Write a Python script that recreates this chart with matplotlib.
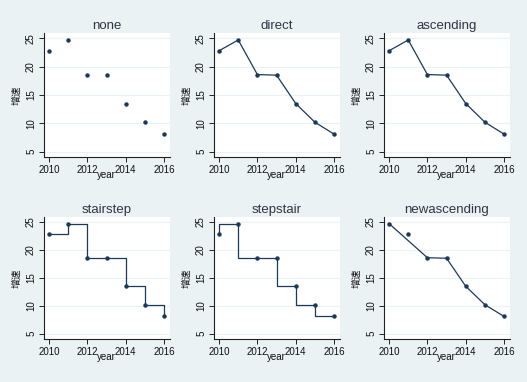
import matplotlib
matplotlib.use("Agg")
import matplotlib.pyplot as plt

plt.rcParams['font.family'] = ['Liberation Sans', 'Noto Sans CJK SC', 'DejaVu Sans']

# data
years = [2010, 2011, 2012, 2013, 2014, 2015, 2016]
growth = [22.8, 24.7, 18.6, 18.5, 13.5, 10.2, 8.1]
# the newascending panel uses a reordered copy of the data
years_new = [2011, 2010, 2012, 2013, 2014, 2015, 2016]
growth_new = [22.8, 24.7, 18.6, 18.5, 13.5, 10.2, 8.1]

titles = ["none", "direct", "ascending", "stairstep", "stepstair", "newascending"]
yticks = [5, 10, 15, 20, 25]
xticks = [2010, 2012, 2014, 2016]

navy = '#1a3a5c'
bg = '#eaf2f3'

fig = plt.figure(figsize=(5.27, 3.82), dpi=100, facecolor=bg)

lefts = [43.7, 213.7, 383.7]
rows = [(33, 157), (216.7, 339)]
W, H = 527, 382

for i, title in enumerate(titles):
    r, c = divmod(i, 3)
    top, bot = rows[r]
    ax = fig.add_axes([lefts[c] / W, 1 - bot / H, 126.3 / W, (bot - top) / H])
    ax.set_facecolor('white')
    ax.set_xlim(2009.72, 2016.31)
    ax.set_ylim(4.07, 25.93)
    ax.set_yticks(yticks)
    ax.set_xticks(xticks)
    ax.grid(axis='y', color=bg, linewidth=0.8)
    ax.set_axisbelow(True)
    for s in ['top', 'right']:
        ax.spines[s].set_visible(False)
    for s in ['left', 'bottom']:
        ax.spines[s].set_color('#222222')
        ax.spines[s].set_linewidth(0.8)
    ax.tick_params(length=3.5, width=0.7, color='#222222', labelsize=7, pad=2,
                   labelcolor='#111111')
    for lab in ax.get_yticklabels():
        lab.set_rotation(90)
        lab.set_va('center')
    ax.set_title(title, fontsize=9.5, color='#333344', pad=3)
    ax.set_xlabel('year', fontsize=7, labelpad=-3.5, color='#111111')
    ax.set_ylabel('增速', fontsize=7, labelpad=3, color='#111111')

    kw = dict(color=navy, linewidth=0.9)
    if title == "none":
        ax.plot(years, growth, 'o', ms=2.2, color=navy)
    elif title in ("direct", "ascending"):
        ax.plot(years, growth, '-o', ms=2.2, **kw)
    elif title == "stairstep":
        ax.plot(years, growth, drawstyle='steps-post', **kw)
        ax.plot(years, growth, 'o', ms=2.2, color=navy)
    elif title == "stepstair":
        ax.plot(years, growth, drawstyle='steps-pre', **kw)
        ax.plot(years, growth, 'o', ms=2.2, color=navy)
    else:
        # connect only where x is ascending
        for j in range(1, len(years_new)):
            if years_new[j] > years_new[j - 1]:
                ax.plot(years_new[j - 1:j + 1], growth_new[j - 1:j + 1], **kw)
        ax.plot(years_new, growth_new, 'o', ms=2.2, color=navy)

fig.savefig('out.png', dpi=100, facecolor=bg)
